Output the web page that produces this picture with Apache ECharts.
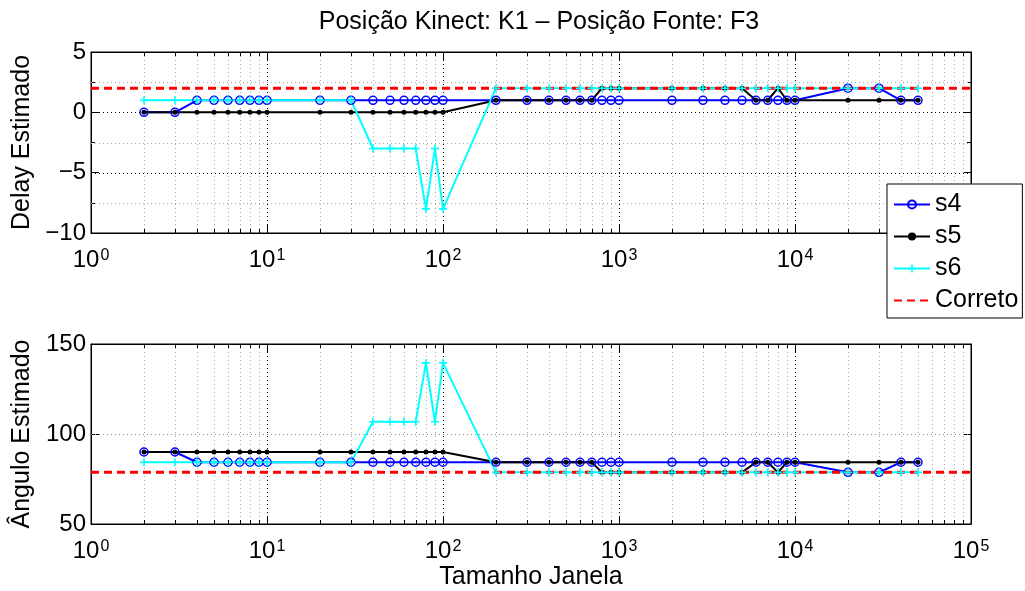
<!DOCTYPE html>
<html>
<head>
<meta charset="utf-8">
<script src="https://cdn.jsdelivr.net/npm/echarts@6/dist/echarts.min.js"></script>
<style>
  html, body { margin: 0; padding: 0; background: #fff; }
  #chart { width: 1025px; height: 591px; }
</style>
</head>
<body>
<div id="chart"></div>
<script>
// tamanhos de janela (eixo x, log)
const janelas = [2, 3, 4, 5, 6, 7, 8, 9, 10,
  20, 30, 40, 50, 60, 70, 80, 90, 100,
  200, 300, 400, 500, 600, 700, 800, 900, 1000,
  2000, 3000, 4000, 5000, 6000, 7000, 8000, 9000, 10000,
  20000, 30000, 40000, 50000];

// delay estimado
const delayS4 = [0, 0, 1, 1, 1, 1, 1, 1, 1,
  1, 1, 1, 1, 1, 1, 1, 1, 1,
  1, 1, 1, 1, 1, 1, 1, 1, 1,
  1, 1, 1, 1, 1, 1, 1, 1, 1,
  2, 2, 1, 1];
const delayS5 = [0, 0, 0, 0, 0, 0, 0, 0, 0,
  0, 0, 0, 0, 0, 0, 0, 0, 0,
  1, 1, 1, 1, 1, 1, 2, 2, 2,
  2, 2, 2, 2, 1, 1, 2, 1, 1,
  1, 1, 1, 1];
const delayS6 = [1, 1, 1, 1, 1, 1, 1, 1, 1,
  1, 1, -3, -3, -3, -3, -8, -3, -8,
  2, 2, 2, 2, 2, 2, 2, 2, 2,
  2, 2, 2, 2, 2, 2, 2, 2, 2,
  2, 2, 2, 2];

// angulo estimado
const anguloS4 = [90, 90, 84.3, 84.3, 84.3, 84.3, 84.3, 84.3, 84.3,
  84.3, 84.3, 84.3, 84.3, 84.3, 84.3, 84.3, 84.3, 84.3,
  84.3, 84.3, 84.3, 84.3, 84.3, 84.3, 84.3, 84.3, 84.3,
  84.3, 84.3, 84.3, 84.3, 84.3, 84.3, 84.3, 84.3, 84.3,
  78.7, 78.7, 84.3, 84.3];
const anguloS5 = [90, 90, 90, 90, 90, 90, 90, 90, 90,
  90, 90, 90, 90, 90, 90, 90, 90, 90,
  84.3, 84.3, 84.3, 84.3, 84.3, 84.3, 78.7, 78.7, 78.7,
  78.7, 78.7, 78.7, 78.7, 84.3, 84.3, 78.7, 84.3, 84.3,
  84.3, 84.3, 84.3, 84.3];
const anguloS6 = [84.3, 84.3, 84.3, 84.3, 84.3, 84.3, 84.3, 84.3, 84.3,
  84.3, 84.3, 106.8, 106.8, 106.8, 106.8, 139.5, 106.8, 139.5,
  78.7, 78.7, 78.7, 78.7, 78.7, 78.7, 78.7, 78.7, 78.7,
  78.7, 78.7, 78.7, 78.7, 78.7, 78.7, 78.7, 78.7, 78.7,
  78.7, 78.7, 78.7, 78.7];

// valor correto
const corretoX = [1, 100000];
const delayCorreto = [2, 2];
const anguloCorreto = [78.7, 78.7];

// linhas de grade
const decadasInternas = [10, 100, 1000, 10000];
const decadas = [1, 10, 100, 1000, 10000];
const multiplos = [2, 3, 4, 5, 6, 7, 8, 9];
const gradeDelayMaior = [-5, 0];
const gradeDelayMenor = [-7.5, -2.5, 2.5];
const gradeAnguloMaior = [100];

const fonte = "'Liberation Sans', Arial, sans-serif";
const plusPath = 'path://M4,0h2v4h4v2h-4v4h-2v-4h-4v-2h4z';

function pares(xs, ys) {
  return xs.map((x, i) => [x, ys[i]]);
}

var minorX = [];
decadas.forEach(d => multiplos.forEach(m => minorX.push(d * m)));

function logLabel(v) {
  var e = Math.round(Math.log10(v));
  return '{b|10}{s|' + e + '}';
}

const richLog = {
  b: {fontSize: 24, lineHeight: 24, padding: [6, 0, 0, 0], verticalAlign: 'bottom', fontFamily: fonte, color: '#000'},
  s: {fontSize: 16, lineHeight: 16, verticalAlign: 'top', fontFamily: fonte, color: '#000', padding: [0, 0, 0, 1]}
};

function xMain(gridIndex, showName) {
  return {
    type: 'log', logBase: 10, min: 1, max: 100000, gridIndex: gridIndex,
    position: 'bottom',
    name: showName ? 'Tamanho Janela' : '',
    nameLocation: 'middle', nameGap: 41,
    nameTextStyle: {fontSize: 25, fontFamily: fonte, color: '#000'},
    axisLine: {onZero: false, lineStyle: {color: '#000', width: 1}},
    axisTick: {inside: true, length: 8, lineStyle: {color: '#000'}},
    axisLabel: {formatter: logLabel, rich: richLog, margin: 15, showMinLabel: true, showMaxLabel: true},
    splitLine: {show: false}
  };
}

function xTop(gridIndex) {
  return {
    type: 'log', logBase: 10, min: 1, max: 100000, gridIndex: gridIndex,
    position: 'top',
    axisLine: {onZero: false, lineStyle: {color: '#000', width: 1}},
    axisTick: {inside: true, length: 8, lineStyle: {color: '#000'}},
    axisLabel: {show: false},
    splitLine: {show: false}
  };
}

function yFmt(v) {
  return String(v).replace('-', '\u2212');
}

function yAxisDef(gridIndex, pos, min, max, interval, name, minor) {
  var main = pos === 'left';
  return {
    type: 'value', gridIndex: gridIndex, position: pos,
    min: min, max: max, interval: interval,
    name: main ? name : '', nameLocation: 'middle', nameGap: 55,
    nameTextStyle: {fontSize: 25, fontFamily: fonte, color: '#000'},
    axisLine: {show: true, onZero: false, lineStyle: {color: '#000', width: 1}},
    axisTick: {show: true, inside: true, length: 8, lineStyle: {color: '#000'}},
    minorTick: {show: minor, splitNumber: 2, length: 4, lineStyle: {color: '#000'}},
    minorSplitLine: {show: false},
    axisLabel: {show: main, formatter: yFmt, fontSize: 24, fontFamily: fonte, color: '#000', margin: 5},
    splitLine: {show: false}
  };
}

// kind: 0 vertical maior, 1 vertical menor, 2 horizontal maior, 3 horizontal menor
function renderGrade(params, api) {
  var cs = params.coordSys;
  var kind = api.value(2);
  var p = api.coord([api.value(0), api.value(1)]);
  var x0 = cs.x, x1 = cs.x + cs.width, y0 = cs.y, y1 = cs.y + cs.height;
  var maiorCor = api.value(3) ? '#888' : '#000';
  if (kind < 2) {
    var x = Math.round(p[0]) + 0.5;
    var kids = [{type: 'line', shape: {x1: x, y1: y0, x2: x, y2: y1},
      style: {stroke: kind === 0 ? '#000' : '#aaa', lineWidth: 1, lineDash: [1, 3]}}];
    if (kind === 1) {
      kids.push({type: 'line', shape: {x1: x, y1: y1, x2: x, y2: y1 - 4}, style: {stroke: '#000', lineWidth: 1}});
      kids.push({type: 'line', shape: {x1: x, y1: y0, x2: x, y2: y0 + 4}, style: {stroke: '#000', lineWidth: 1}});
    }
    return {type: 'group', children: kids};
  }
  var y = Math.round(p[1]) + 0.5;
  return {type: 'line', shape: {x1: x0, y1: y, x2: x1, y2: y},
    style: {stroke: kind === 2 ? maiorCor : '#aaa', lineWidth: 1, lineDash: [1, 3]}};
}

function gradeDados(yMin, maiores, menores, claro) {
  var d = [];
  decadasInternas.forEach(x => d.push([x, yMin, 0, claro]));
  minorX.forEach(x => d.push([x, yMin, 1, claro]));
  maiores.forEach(y => d.push([1, y, 2, claro]));
  menores.forEach(y => d.push([1, y, 3, claro]));
  return d;
}

function seriesSet(xIdx, yIdx, s4, s5, s6, correto, grade) {
  return [
    {
      type: 'custom', xAxisIndex: xIdx, yAxisIndex: yIdx, silent: true, z: 1,
      renderItem: renderGrade, encode: {x: 0, y: 1},
      data: grade
    },
    {
      name: 's4', type: 'line', xAxisIndex: xIdx, yAxisIndex: yIdx,
      data: pares(janelas, s4), symbol: 'circle', symbolSize: 8,
      lineStyle: {color: '#0000ff', width: 2},
      itemStyle: {color: 'rgba(0,0,0,0)', borderColor: '#0000ff', borderWidth: 1.5}
    },
    {
      name: 's5', type: 'line', xAxisIndex: xIdx, yAxisIndex: yIdx,
      data: pares(janelas, s5), symbol: 'circle', symbolSize: 5,
      lineStyle: {color: '#000', width: 2},
      itemStyle: {color: '#000'}
    },
    {
      name: 's6', type: 'line', xAxisIndex: xIdx, yAxisIndex: yIdx,
      data: pares(janelas, s6), symbol: plusPath, symbolSize: 8,
      lineStyle: {color: '#00ffff', width: 2},
      itemStyle: {color: '#00ffff'}
    },
    {
      name: 'Correto', type: 'line', xAxisIndex: xIdx, yAxisIndex: yIdx,
      data: pares(corretoX, correto), symbol: 'none',
      lineStyle: {color: '#ff0000', width: 3, type: [8, 5]},
      itemStyle: {color: '#ff0000'}
    }
  ];
}

var chart = echarts.init(document.getElementById('chart'), null, {renderer: 'canvas'});

var option = {
  backgroundColor: '#fff',
  animation: false,
  textStyle: {fontFamily: fonte},
  title: {
    text: 'Posição Kinect: K1 – Posição Fonte: F3',
    left: 534, top: 5, textAlign: 'center',
    textStyle: {fontSize: 25, fontWeight: 'normal', fontFamily: fonte, color: '#000'}
  },
  legend: {
    data: ['s4', 's5', 's6', {name: 'Correto', itemStyle: {opacity: 0}}],
    orient: 'vertical', left: 887, top: 184,
    padding: [8, 4, 5, 6], itemGap: 7, itemWidth: 36, itemHeight: 10,
    backgroundColor: '#fff', borderColor: '#000', borderWidth: 1, borderRadius: 0,
    textStyle: {fontSize: 25, lineHeight: 25, fontFamily: fonte, color: '#000'},
    selectedMode: false
  },
  grid: [
    {left: 91, right: 54, top: 52, height: 181, show: true, borderColor: '#000', borderWidth: 1},
    {left: 91, right: 54, top: 344, height: 181, show: true, borderColor: '#000', borderWidth: 1}
  ],
  xAxis: [xMain(0, false), xTop(0), xMain(1, true), xTop(1)],
  yAxis: [
    yAxisDef(0, 'left', -10, 5, 5, 'Delay Estimado', true),
    yAxisDef(0, 'right', -10, 5, 5, '', true),
    yAxisDef(1, 'left', 50, 150, 50, 'Ângulo Estimado', false),
    yAxisDef(1, 'right', 50, 150, 50, '', false)
  ],
  series: [].concat(
    seriesSet(0, 0, delayS4, delayS5, delayS6, delayCorreto,
      gradeDados(-10, gradeDelayMaior, gradeDelayMenor, 0)),
    seriesSet(2, 2, anguloS4, anguloS5, anguloS6, anguloCorreto,
      gradeDados(50, gradeAnguloMaior, [], 1))
  )
};

chart.setOption(option);
</script>
</body>
</html>
